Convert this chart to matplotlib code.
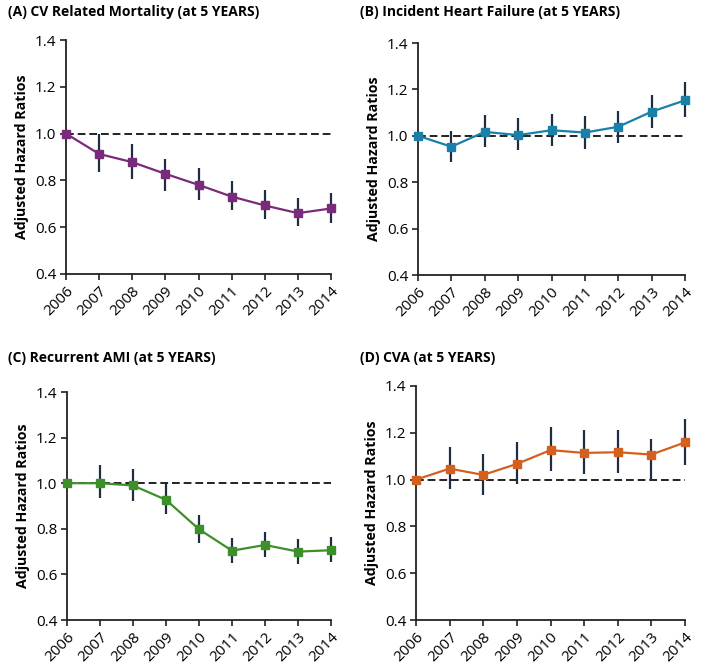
import numpy as np
import matplotlib
matplotlib.use("Agg")
import matplotlib.pyplot as plt

plt.rcParams['font.family'] = ['Open Sans', 'DejaVu Sans']

years = [2006, 2007, 2008, 2009, 2010, 2011, 2012, 2013, 2014]

# (A) CV related mortality
hr_a = [1.0, 0.913, 0.878, 0.828, 0.781, 0.731, 0.693, 0.660, 0.680]
lo_a = [1.0, 0.837, 0.808, 0.754, 0.717, 0.672, 0.635, 0.603, 0.620]
hi_a = [1.0, 1.000, 0.955, 0.893, 0.852, 0.798, 0.757, 0.723, 0.745]

# (B) incident heart failure
hr_b = [1.0, 0.953, 1.017, 1.003, 1.024, 1.014, 1.039, 1.104, 1.153]
lo_b = [1.0, 0.888, 0.953, 0.938, 0.957, 0.945, 0.970, 1.032, 1.079]
hi_b = [1.0, 1.022, 1.089, 1.075, 1.093, 1.085, 1.108, 1.178, 1.232]

# (C) recurrent AMI
hr_c = [1.0, 1.000, 0.990, 0.927, 0.798, 0.704, 0.729, 0.700, 0.706]
lo_c = [1.0, 0.934, 0.922, 0.864, 0.739, 0.651, 0.676, 0.645, 0.653]
hi_c = [1.0, 1.078, 1.063, 0.996, 0.859, 0.761, 0.788, 0.755, 0.766]

# (D) CVA
hr_d = [1.0, 1.047, 1.020, 1.067, 1.126, 1.114, 1.117, 1.107, 1.159]
lo_d = [1.0, 0.961, 0.934, 0.983, 1.036, 1.026, 1.029, 0.993, 1.064]
hi_d = [1.0, 1.140, 1.110, 1.161, 1.223, 1.210, 1.213, 1.174, 1.260]

titles = ["(A) CV Related Mortality (at 5 YEARS)",
          "(B) Incident Heart Failure (at 5 YEARS)",
          "(C) Recurrent AMI (at 5 YEARS)",
          "(D) CVA (at 5 YEARS)"]
colours = ["#7a2a7a", "#1a80a8", "#3d8f2a", "#d4601f"]
bar_col = "#1e2e40"

W, H = 708, 666
fig = plt.figure(figsize=(W / 100, H / 100), dpi=100)

# axes boxes in pixels: left, top, right, bottom
boxes = [(66, 40, 331, 274), (418, 43, 685, 275),
         (67, 392, 331, 620), (416, 386, 685, 620)]
title_pos = [(8, 12), (360, 12), (8, 358), (360, 358)]

series = [(hr_a, lo_a, hi_a), (hr_b, lo_b, hi_b),
          (hr_c, lo_c, hi_c), (hr_d, lo_d, hi_d)]

for i, (hr, lo, hi) in enumerate(series):
    l, t, r, b = boxes[i]
    ax = fig.add_axes([l / W, 1 - b / H, (r - l) / W, (b - t) / H])
    hr = np.array(hr)
    yerr = [hr - np.array(lo), np.array(hi) - hr]
    ax.axhline(1.0, color="#222222", linestyle=(0, (4, 2)), lw=1.4, zorder=1)
    ax.errorbar(years, hr, yerr=yerr, fmt="none", ecolor=bar_col,
                elinewidth=1.6, capsize=0, zorder=2, clip_on=False)
    ax.plot(years, hr, color=colours[i], lw=1.6, marker="s", ms=5.5,
            zorder=3, clip_on=False)
    ax.set_xlim(2006, 2014)
    ax.set_ylim(0.4, 1.4)
    ax.set_yticks([0.4, 0.6, 0.8, 1.0, 1.2, 1.4])
    ax.set_yticklabels(["0.4", "0.6", "0.8", "1.0", "1.2", "1.4"])
    ax.set_xticks(years)
    ax.set_xticklabels([str(y) for y in years], rotation=45, ha="right",
                       rotation_mode="anchor")
    ax.spines["top"].set_visible(False)
    ax.spines["right"].set_visible(False)
    for s in ["left", "bottom"]:
        ax.spines[s].set_linewidth(1.3)
        ax.spines[s].set_color("#222222")
    ax.tick_params(direction="out", length=4, width=1.2, labelsize=11,
                   colors="#222222", labelcolor="black", pad=3)
    ax.set_ylabel("Adjusted Hazard Ratios", fontsize=10.2, fontweight="bold")
    tx, ty = title_pos[i]
    fig.text(tx / W, 1 - ty / H, titles[i], fontsize=10, fontweight="bold",
             ha="left", va="center")

fig.savefig("out.png", dpi=100)
